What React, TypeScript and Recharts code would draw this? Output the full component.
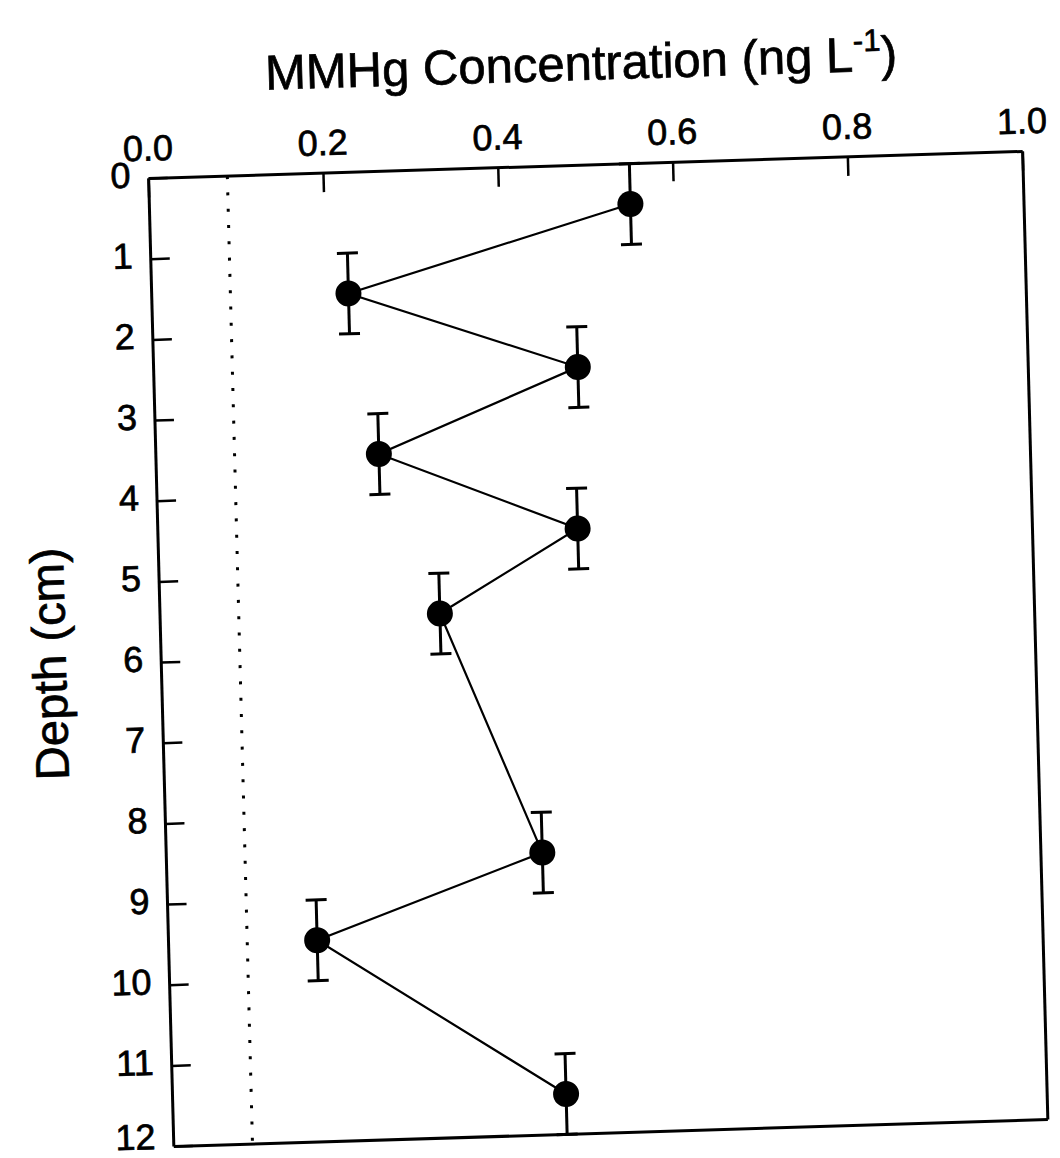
import { ScatterChart, Scatter, XAxis, YAxis, ErrorBar, ReferenceLine } from "recharts";

// MMHg porewater profile, core sections sampled at 1 cm intervals
const depths = [0.5, 1.5, 2.5, 3.5, 4.5, 5.5, 8.5, 9.5, 11.5];
const mmhg = [0.55, 0.225, 0.485, 0.255, 0.48, 0.32, 0.43, 0.17, 0.45];
const depthErr = [0.5, 0.5, 0.5, 0.5, 0.5, 0.5, 0.5, 0.5, 0.5];
const concTicks = [0, 0.2, 0.4, 0.6, 0.8, 1.0];
const depthTicks = [0, 1, 2, 3, 4, 5, 6, 7, 8, 9, 10, 11, 12];
const innerDepthTicks = [1, 2, 3, 4, 5, 6, 7, 8, 9, 10, 11];
const detectionLimit = 0.09;

const data = depths.map((d, i) => ({ depth: d, conc: mmhg[i], err: depthErr[i] }));

const W = 1060;
const H = 1158;
const PLOT_LEFT = 161.25;
const PLOT_TOP = 165;
const PLOT_H = 968;
const PLOT_W = 874;
const FONT = "'Liberation Sans', Arial, Helvetica, sans-serif";

const axisLine = { stroke: "#000", strokeWidth: 3 };
const tickLine = { stroke: "#000", strokeWidth: 2.5 };

// scanned text looks heavier than a plain regular weight
const inkText = { fill: "#000", stroke: "#000", strokeWidth: 0.7, fontFamily: FONT };

// eslint-disable-next-line @typescript-eslint/no-explicit-any
function ConcTick(props: any) {
  const { x, y, payload } = props;
  return (
    <text x={x} y={y} textAnchor="middle" fontSize={36} {...inkText}>
      {Number(payload.value).toFixed(1)}
    </text>
  );
}

// eslint-disable-next-line @typescript-eslint/no-explicit-any
function DepthTick(props: any) {
  const { x, y, payload } = props;
  // keep the last label (12) inside the page
  const baseline = Math.min(y + 8.5, H - 23);
  return (
    <text x={x} y={baseline} textAnchor="end" fontSize={36} {...inkText}>
      {payload.value}
    </text>
  );
}

function ChartTitle() {
  return (
    <text x={PLOT_LEFT + PLOT_W / 2 - 2} y={80} textAnchor="middle" fontSize={49} {...inkText}>
      MMHg Concentration (ng L
      <tspan dy={-20} fontSize={31}>-1</tspan>
      <tspan dy={20}>)</tspan>
    </text>
  );
}

function DepthLabel() {
  const x = 66;
  const y = PLOT_TOP + PLOT_H / 2 - 2;
  return (
    <text
      x={x}
      y={y}
      transform={`rotate(-90, ${x}, ${y})`}
      textAnchor="middle"
      fontSize={47}
      {...inkText}
    >
      Depth (cm)
    </text>
  );
}

// eslint-disable-next-line @typescript-eslint/no-explicit-any
function Dot(props: any) {
  const { cx, cy } = props;
  return <circle cx={cx} cy={cy} r={13} fill="#000" />;
}

export default function App() {
  return (
    <div
      style={{
        position: "absolute",
        left: 0,
        top: 0,
        width: W,
        height: H,
        background: "#fff",
        // the source is a slightly skewed scan
        transform: "matrix(1, -0.031, 0.026, 1, 0, 0)",
        transformOrigin: `${PLOT_LEFT + PLOT_W / 2}px ${PLOT_TOP + PLOT_H / 2}px`,
      }}
    >
      <ScatterChart
        width={W}
        height={H}
        margin={{ top: PLOT_TOP - 80, left: PLOT_LEFT - 80, right: W - PLOT_LEFT - PLOT_W - 10, bottom: H - PLOT_TOP - PLOT_H - 10 }}
      >
        <XAxis
          type="number"
          dataKey="conc"
          orientation="top"
          height={80}
          domain={[0, 1]}
          ticks={concTicks}
          interval={0}
          allowDataOverflow
          tick={<ConcTick />}
          tickSize={-19}
          tickMargin={37}
          axisLine={axisLine}
          tickLine={tickLine}
          label={<ChartTitle />}
        />
        <XAxis
          xAxisId="bottom"
          type="number"
          orientation="bottom"
          height={10}
          domain={[0, 1]}
          allowDataOverflow
          tick={false}
          tickLine={false}
          axisLine={axisLine}
        />
        <YAxis
          type="number"
          dataKey="depth"
          width={80}
          reversed
          domain={[0, 12]}
          ticks={depthTicks}
          interval={0}
          allowDataOverflow
          tick={<DepthTick />}
          tickSize={-19}
          tickMargin={37}
          axisLine={axisLine}
          tickLine={tickLine}
          label={<DepthLabel />}
        />
        <YAxis
          yAxisId="right"
          type="number"
          orientation="right"
          width={10}
          reversed
          domain={[0, 12]}
          ticks={innerDepthTicks}
          interval={0}
          allowDataOverflow
          tick={false}
          tickSize={-19}
          axisLine={axisLine}
          tickLine={tickLine}
        />
        <ReferenceLine
          x={detectionLimit}
          stroke="#000"
          strokeWidth={3}
          strokeDasharray="3 13.3"
        />
        <Scatter
          data={data}
          fill="#000"
          shape={<Dot />}
          line={{ stroke: "#000", strokeWidth: 2.2 }}
          lineJointType="linear"
          isAnimationActive={false}
        >
          <ErrorBar dataKey="err" direction="y" width={10.5} stroke="#000" strokeWidth={3} isAnimationActive={false} />
        </Scatter>
      </ScatterChart>
    </div>
  );
}
